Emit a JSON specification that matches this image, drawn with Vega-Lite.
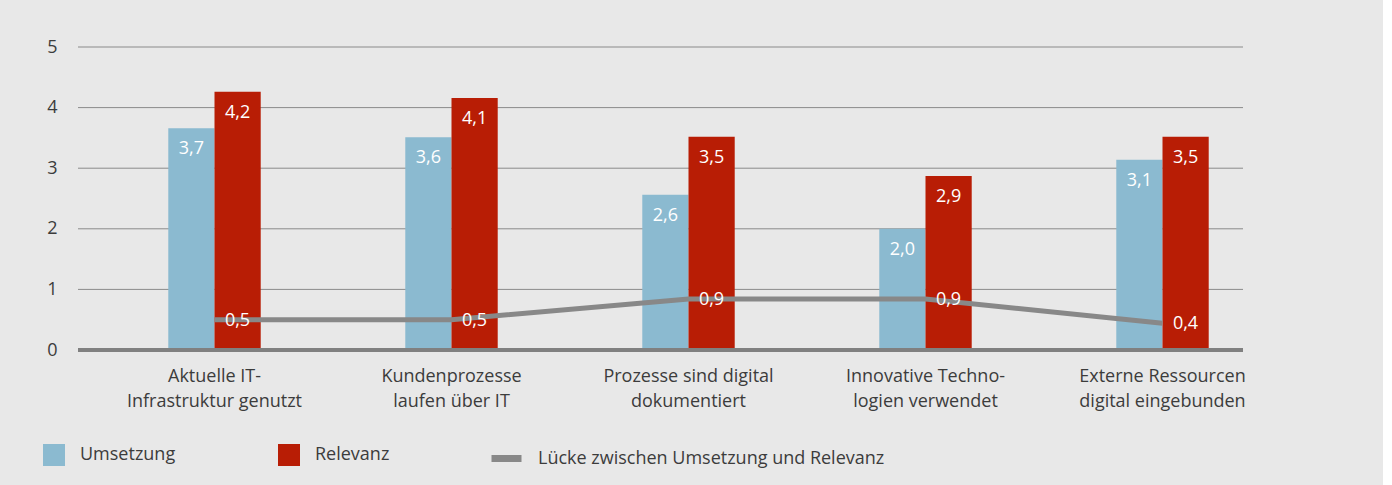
{
  "$schema": "https://vega.github.io/schema/vega-lite/v6.json",
  "autosize": "none",
  "width": 1165,
  "height": 303,
  "padding": {"left": 78, "top": 47, "right": 140, "bottom": 135},
  "background": "#e8e8e8",
  "config": {
    "view": {"stroke": null},
    "font": "Open Sans",
    "axis": {"labelColor": "#3c3c3c", "labelFont": "Open Sans", "labelFontSize": 18, "title": null},
    "axisY": {"domain": false, "ticks": false, "tickSize": 0, "grid": false, "labelPadding": 21, "tickCount": 5, "labelOverlap": false},
    "legend": {"labelColor": "#3c3c3c", "labelFont": "Open Sans", "labelFontSize": 18, "title": null, "padding": 0, "labelLimit": 600}
  },
  "datasets": {
    "bars": [
      {"cat": "Aktuelle IT-|Infrastruktur genutzt", "series": "Umsetzung", "value": 3.66, "label": "3,7"},
      {"cat": "Aktuelle IT-|Infrastruktur genutzt", "series": "Relevanz", "value": 4.26, "label": "4,2"},
      {"cat": "Kundenprozesse|laufen über IT", "series": "Umsetzung", "value": 3.51, "label": "3,6"},
      {"cat": "Kundenprozesse|laufen über IT", "series": "Relevanz", "value": 4.16, "label": "4,1"},
      {"cat": "Prozesse sind digital|dokumentiert", "series": "Umsetzung", "value": 2.56, "label": "2,6"},
      {"cat": "Prozesse sind digital|dokumentiert", "series": "Relevanz", "value": 3.52, "label": "3,5"},
      {"cat": "Innovative Techno-|logien verwendet", "series": "Umsetzung", "value": 2.0, "label": "2,0"},
      {"cat": "Innovative Techno-|logien verwendet", "series": "Relevanz", "value": 2.87, "label": "2,9"},
      {"cat": "Externe Ressourcen|digital eingebunden", "series": "Umsetzung", "value": 3.14, "label": "3,1"},
      {"cat": "Externe Ressourcen|digital eingebunden", "series": "Relevanz", "value": 3.52, "label": "3,5"}
    ],
    "gap": [
      {"cat": "Aktuelle IT-|Infrastruktur genutzt", "series": "Lücke zwischen Umsetzung und Relevanz", "value": 0.5, "label": "0,5"},
      {"cat": "Kundenprozesse|laufen über IT", "series": "Lücke zwischen Umsetzung und Relevanz", "value": 0.5, "label": "0,5"},
      {"cat": "Prozesse sind digital|dokumentiert", "series": "Lücke zwischen Umsetzung und Relevanz", "value": 0.84, "label": "0,9"},
      {"cat": "Innovative Techno-|logien verwendet", "series": "Lücke zwischen Umsetzung und Relevanz", "value": 0.84, "label": "0,9"},
      {"cat": "Externe Ressourcen|digital eingebunden", "series": "Lücke zwischen Umsetzung und Relevanz", "value": 0.44, "label": "0,4"}
    ],
    "grid": [{"tick": 1}, {"tick": 2}, {"tick": 3}, {"tick": 4}, {"tick": 5}]
  },
  "layer": [
    {
      "data": {"name": "grid"},
      "mark": {"type": "rule", "color": "#8a8a8a", "strokeWidth": 1},
      "encoding": {
        "y": {
          "field": "tick", "type": "quantitative",
          "scale": {"domain": [0, 5], "nice": false}
        }
      }
    },
    {
      "data": {"name": "bars"},
      "mark": {"type": "bar"},
      "encoding": {
        "x": {
          "field": "cat", "type": "nominal", "sort": null,
          "scale": {"range": [18, 1203], "paddingInner": 0.61, "paddingOuter": 0.305},
          "axis": {"domain": false, "ticks": false, "tickSize": 0, "labelPadding": 17, "labelAngle": 0, "labelLineHeight": 25, "labelExpr": "split(datum.label, '|')", "labelLimit": 400}
        },
        "xOffset": {"field": "series", "type": "nominal", "sort": ["Umsetzung", "Relevanz"], "scale": {"paddingInner": 0, "paddingOuter": 0}},
        "y": {"field": "value", "type": "quantitative"},
        "color": {
          "field": "series", "type": "nominal",
          "scale": {"domain": ["Umsetzung", "Relevanz"], "range": ["#8bbad0", "#b81d05"]},
          "legend": {"orient": "none", "legendX": -35, "legendY": 397, "direction": "horizontal", "columns": 2, "columnPadding": 102, "symbolType": "square", "symbolSize": 484, "symbolStrokeWidth": 0, "symbolOpacity": 1, "labelOffset": 15}
        }
      }
    },
    {
      "data": {"name": "bars"},
      "mark": {"type": "text", "color": "white", "fontSize": 18, "baseline": "alphabetic", "dy": 26},
      "encoding": {
        "x": {"field": "cat", "type": "nominal", "sort": null},
        "xOffset": {"field": "series", "type": "nominal", "sort": ["Umsetzung", "Relevanz"]},
        "y": {"field": "value", "type": "quantitative"},
        "text": {"field": "label"}
      }
    },
    {
      "data": {"name": "bars"},
      "mark": {"type": "rule", "color": "#808080", "strokeWidth": 3},
      "encoding": {"y": {"datum": 0, "type": "quantitative"}}
    },
    {
      "data": {"name": "gap"},
      "mark": {"type": "line", "strokeWidth": 5},
      "encoding": {
        "x": {"field": "cat", "type": "nominal", "sort": null},
        "y": {"field": "value", "type": "quantitative"},
        "stroke": {
          "field": "series", "type": "nominal",
          "scale": {"range": ["#888888"]},
          "legend": {"orient": "none", "legendX": 410, "legendY": 393, "symbolType": "stroke", "symbolSize": 900, "symbolStrokeWidth": 7, "labelOffset": 13}
        }
      }
    },
    {
      "data": {"name": "gap"},
      "mark": {"type": "text", "color": "white", "fontSize": 18, "baseline": "alphabetic", "dx": 23, "dy": 6},
      "encoding": {
        "x": {"field": "cat", "type": "nominal", "sort": null},
        "y": {"field": "value", "type": "quantitative"},
        "text": {"field": "label"}
      }
    }
  ]
}
